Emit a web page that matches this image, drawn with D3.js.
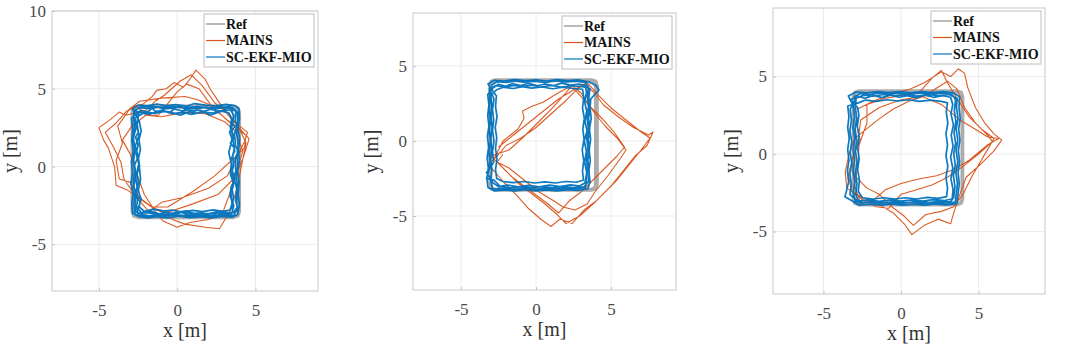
<!DOCTYPE html>
<html><head><meta charset="utf-8">
<script src="https://cdn.jsdelivr.net/npm/d3@7"></script>
<style>html,body{margin:0;padding:0;background:#fff;}svg{display:block;}</style>
</head><body>
<svg id="c" width="1080" height="359"></svg>
<script>
const seriesNames = ["Ref", "MAINS", "SC-EKF-MIO"];
const xTicks = [-5, 0, 5];
const yTicks1 = [-5, 0, 5, 10];
const yTicks2 = [-5, 0, 5];
const yTicks3 = [-5, 0, 5];
const xLim1 = [-8, 9],   yLim1 = [-8, 10];
const xLim2 = [-8.2, 9.33], yLim2 = [-9.93, 8.53];
const xLim3 = [-8.26, 9.29], yLim3 = [-9.03, 9.42];

// ---------- Panel 1 ----------
const ref1 = [[-2.5,3.9],[3.6,3.9],[3.9,3.8],[4.0,3.5],[4.0,-2.9],[3.9,-3.2],[3.6,-3.3],[-2.5,-3.3],[-2.8,-3.2],[-2.9,-2.9],[-2.9,3.5],[-2.8,3.8],[-2.5,3.9],
 [-2.5,3.8],[3.6,3.8],[3.85,3.7],[3.92,3.4],[3.92,-2.9],[3.85,-3.15],[3.6,-3.22],[-2.5,-3.22],[-2.75,-3.15],[-2.82,-2.9],[-2.82,3.5],[-2.75,3.72],[-2.5,3.8]];
const mains1 = [[-3.0,3.8],[-2.2,4.0],[-1.6,4.5],[-1.3,4.9],[-0.7,5.0],[-0.2,5.4],[0.4,5.1],[0.8,5.6],[1.2,6.2],[1.8,5.6],[2.1,5.0],[2.5,4.4],[3.1,3.5],[3.6,2.9],[4.3,2.1],[4.6,1.8],[4.2,0.5],[3.9,-0.2],[3.6,-0.8],[2.6,-1.8],[1.0,-2.4],[-0.5,-2.9],[-1.5,-2.7],[-2.2,-2.2],[-3.2,-1.5],[-3.9,-1.2],[-4.0,0.0],[-4.4,1.2],[-4.7,1.7],[-5.0,2.5],[-4.3,3.0],[-3.7,3.5],[-3.3,3.3],
 [-2.0,3.6],[-1.4,4.2],[-0.8,4.6],[0.2,5.5],[0.9,5.9],[1.6,5.2],[2.4,4.1],[3.2,3.4],[4.0,2.6],[4.5,2.2],[4.3,1.6],[4.0,1.0],[3.2,-0.6],[2.0,-1.4],[0.3,-2.0],[-1.0,-2.3],[-1.8,-2.9],[-2.6,-2.0],[-3.4,-0.8],[-3.6,0.3],[-4.1,1.3],[-4.6,2.2],[-3.9,2.8],[-3.3,3.5],
 [-2.4,4.2],[-1.0,4.4],[0.5,4.5],[1.3,4.3],[2.0,4.0],[3.2,3.0],[4.0,2.4],[4.4,1.5],[4.1,0.0],[3.8,-1.5],[3.4,-2.8],[3.0,-3.5],[2.7,-4.0],[1.8,-3.9],[0.5,-3.7],[-0.3,-3.4],[-0.8,-3.0],[-1.5,-2.7],[-2.4,-2.0],[-3.0,-1.0],[-3.7,-0.8],[-3.9,0.4],[-3.5,1.5],[-3.8,2.6],[-3.1,3.6],[-2.6,3.9],
 [-2.0,3.3],[-1.0,3.2],[0.5,3.5],[1.8,3.4],[3.0,2.9],[3.7,2.3],[4.2,1.0],[3.8,-0.3],[3.3,-1.9],[2.9,-3.0],[2.0,-3.4],[0.8,-3.6],[0.0,-3.9],[-0.9,-3.5],[-1.4,-2.9],[-2.1,-1.8],[-2.6,-0.4],[-3.0,0.8],[-3.5,1.7],[-2.9,2.6],[-2.0,3.3],
 [-1.2,3.3],[0.0,4.8],[0.6,5.3],[1.4,5.0],[2.2,3.9],[3.4,2.8],[4.4,2.0],[4.3,1.2],[3.7,0.6],[2.4,-0.6],[1.0,-1.6],[-0.6,-2.6],[-1.7,-2.6]];
const mio1 = [[-2.7,3.6],[-2.4,3.78],[-1.7,3.72],[-1.2,3.85],[-0.9,3.7],[-0.2,3.76],[0.2,3.9],[0.5,3.68],[1.3,3.74],[1.9,3.82],[2.2,3.66],[2.9,3.79],[3.4,3.72],[3.75,3.55],[3.72,3.0],[3.82,2.6],[3.66,2.1],[3.74,1.3],[3.9,1.0],[3.7,0.5],[3.75,-0.3],[3.62,-0.7],[3.8,-1.4],[3.73,-2.2],[3.85,-2.6],[3.6,-2.95],[3.2,-3.1],[2.6,-3.02],[2.1,-3.16],[1.4,-3.05],[0.7,-3.12],[0.3,-2.95],[-0.4,-3.1],[-1.1,-3.04],[-1.6,-3.2],[-2.2,-3.08],[-2.65,-2.9],[-2.7,-2.4],[-2.6,-1.9],[-2.78,-1.3],[-2.66,-0.6],[-2.72,0.1],[-2.55,0.5],[-2.7,1.2],[-2.82,1.8],[-2.62,2.5],[-2.7,3.1],
 [-2.4,3.3],[-2.0,3.5],[-1.4,3.42],[-0.8,3.55],[-0.3,3.4],[0.4,3.48],[0.9,3.35],[1.6,3.5],[2.3,3.44],[2.7,3.6],[3.3,3.45],[3.48,3.1],[3.4,2.5],[3.55,2.0],[3.42,1.4],[3.3,0.9],[3.46,0.2],[3.4,-0.5],[3.58,-1.0],[3.44,-1.7],[3.5,-2.4],[3.38,-2.8],[2.9,-2.88],[2.3,-2.78],[1.6,-2.9],[1.0,-2.82],[0.3,-2.92],[-0.3,-2.8],[-0.9,-2.86],[-1.5,-2.74],[-2.1,-2.88],[-2.42,-2.6],[-2.36,-2.0],[-2.48,-1.5],[-2.34,-0.8],[-2.4,-0.2],[-2.5,0.4],[-2.35,1.1],[-2.44,1.7],[-2.3,2.3],[-2.42,2.9],
 [-2.85,3.7],[-2.5,3.95],[-1.9,3.9],[-1.3,4.02],[-0.7,3.92],[-0.1,3.98],[0.6,3.88],[1.1,4.05],[1.8,3.95],[2.5,3.9],[3.1,4.0],[3.7,3.92],[3.95,3.7],[3.98,3.1],[3.88,2.4],[4.0,1.8],[3.92,1.1],[3.98,0.4],[3.86,-0.3],[3.96,-1.0],[3.9,-1.8],[3.98,-2.5],[3.86,-3.1],[3.5,-3.25],[2.8,-3.2],[2.2,-3.3],[1.5,-3.22],[0.8,-3.28],[0.1,-3.18],[-0.6,-3.3],[-1.3,-3.22],[-1.9,-3.3],[-2.5,-3.2],[-2.85,-3.0],[-2.9,-2.4],[-2.82,-1.7],[-2.95,-1.1],[-2.86,-0.4],[-2.92,0.3],[-2.8,1.0],[-2.9,1.7],[-2.84,2.4],[-2.92,3.1],
 [-2.55,3.45],[-2.3,3.62],[-1.9,3.5],[-1.6,3.75],[-1.4,3.55],[-0.9,3.62],[-0.5,3.45],[-0.2,3.7],[0.3,3.58],[0.8,3.66],[1.0,3.4],[1.2,3.64],[1.7,3.55],[2.2,3.7],[2.6,3.52],[3.0,3.62],[3.3,3.9],[3.5,3.6],[3.6,3.2],[3.45,2.8],[3.7,2.6],[3.5,2.3],[3.62,1.8],[3.4,1.5],[3.66,1.2],[3.55,0.7],[3.6,0.0],[3.48,-0.4],[3.65,-0.9],[3.52,-1.5],[3.6,-2.0],[3.5,-2.6],[3.56,-2.95],[3.1,-3.0],[2.6,-2.92],[2.0,-3.06],[1.5,-2.96],[0.9,-3.04],[0.4,-2.9],[-0.2,-3.02],[-0.8,-2.94],[-1.3,-3.08],[-1.9,-2.96],[-2.5,-3.0],[-2.6,-2.5],[-2.5,-2.1],[-2.62,-1.5],[-2.48,-1.0],[-2.58,-0.4],[-2.45,0.2],[-2.62,0.8],[-2.5,1.4],[-2.66,1.9],[-2.48,2.2],[-2.6,2.7],[-2.5,3.2],
 [-2.75,3.6],[-2.3,3.82],[-1.5,3.86],[-0.8,3.8],[-0.2,3.84],[0.5,3.78],[1.3,3.85],[2.0,3.76],[2.8,3.84],[3.5,3.8],[3.85,3.5],[3.88,2.8],[3.8,2.1],[3.9,1.4],[3.82,0.7],[3.86,0.0],[3.78,-0.7],[3.88,-1.4],[3.8,-2.2],[3.84,-2.8],[3.6,-3.15],[2.9,-3.12],[2.2,-3.2],[1.5,-3.14],[0.8,-3.18],[0.0,-3.1],[-0.7,-3.18],[-1.4,-3.12],[-2.1,-3.2],[-2.7,-3.05],[-2.76,-2.4],[-2.7,-1.7],[-2.8,-1.0],[-2.72,-0.3],[-2.78,0.4],[-2.7,1.1],[-2.8,1.8],[-2.72,2.5],[-2.78,3.2],[-2.75,3.6],
 [-2.45,3.5],[-1.8,3.35],[-1.1,3.6],[-0.4,3.5],[0.2,3.3],[0.9,3.58],[1.5,3.62],[2.1,3.3],[2.8,3.55],[3.4,3.65],[3.62,3.3],[3.55,2.7],[3.35,2.2],[3.58,1.6],[3.68,1.0],[3.42,0.4],[3.5,-0.2],[3.7,-0.8],[3.45,-1.3],[3.38,-1.9],[3.62,-2.5],[3.48,-3.05],[2.8,-2.85],[2.1,-3.0],[1.3,-3.1],[0.6,-2.85],[-0.1,-2.95],[-0.8,-3.15],[-1.6,-2.9],[-2.3,-2.95],[-2.5,-2.7],[-2.3,-2.1],[-2.55,-1.4],[-2.65,-0.7],[-2.4,0.0],[-2.5,0.7],[-2.68,1.3],[-2.45,2.0],[-2.55,2.7],[-2.45,3.5]];

// ---------- Panel 2 ----------
const ref2 = [[-2.7,4.1],[3.7,4.1],[4.0,4.0],[4.1,3.7],[4.1,-2.9],[4.0,-3.2],[3.7,-3.3],[-2.7,-3.3],[-3.0,-3.2],[-3.1,-2.9],[-3.1,3.7],[-3.0,4.0],[-2.7,4.1],
 [-2.7,4.0],[3.7,4.0],[3.9,3.9],[3.95,3.6],[3.95,-2.9],[3.9,-3.1],[3.7,-3.2],[-2.7,-3.2],[-2.95,-3.1],[-3.0,-2.9],[-3.0,3.7],[-2.95,3.9],[-2.7,4.0]];
const mains2 = [[-2.5,-0.4],[-1.5,0.4],[-0.5,1.2],[0.5,2.0],[1.5,2.8],[2.5,3.4],[3.2,3.8],[3.8,3.3],[4.5,2.4],[5.5,1.6],[6.5,0.9],[7.5,0.4],[7.8,0.6],[7.4,-0.3],[6.6,-1.0],[5.8,-2.0],[5.0,-3.0],[4.0,-4.0],[3.2,-4.6],[2.4,-5.5],[1.6,-5.2],[1.0,-5.7],[0.3,-5.2],[-0.5,-4.5],[-1.3,-3.6],[-2.1,-2.8],[-2.8,-2.0],[-3.2,-1.6],[-2.5,-0.9],
 [-2.0,-0.3],[-1.0,0.2],[0.0,0.9],[1.0,1.8],[2.0,2.7],[2.8,3.5],[3.4,3.9],[4.2,3.0],[5.0,2.2],[6.0,1.4],[7.0,0.6],[7.6,0.2],[7.0,-0.6],[6.2,-1.6],[5.4,-2.6],[4.6,-3.4],[3.8,-4.2],[2.9,-5.0],[2.0,-5.5],[1.4,-4.9],[0.6,-4.2],[-0.3,-3.5],[-1.2,-2.8],[-2.0,-2.0],[-2.8,-1.2],[-2.2,0.0],
 [-1.2,0.8],[-0.8,1.5],[-0.9,2.0],[-0.3,2.3],[0.5,2.6],[1.3,3.1],[2.2,3.6],[2.6,3.4],[3.5,2.4],[4.4,1.5],[5.2,0.6],[5.9,-0.4],[5.4,-1.0],[4.6,-1.8],[3.8,-2.6],[3.0,-3.4],[2.2,-4.0],[1.5,-4.8],[0.8,-4.2],[0.0,-3.6],[-0.8,-3.0],[-1.6,-2.4],[-2.4,-1.6],[-3.0,-1.0],[-1.8,-0.6],
 [-0.8,0.3],[0.2,1.3],[1.1,2.2],[1.9,3.1],[2.4,3.7],[3.0,3.2],[3.8,2.0],[4.6,1.0],[5.4,0.2],[6.0,-0.6],[5.6,-1.2],[4.8,-2.3],[4.0,-3.3],[3.4,-4.2],[2.6,-4.6],[1.8,-4.4],[1.2,-4.0],[0.2,-3.4],[-0.8,-2.6],[-1.8,-1.8],[-2.6,-1.4],[-2.2,-0.9]];
const mio2 = [[-3.0,3.7],[-2.6,3.95],[-2.0,3.9],[-1.4,4.0],[-0.8,3.92],[-0.1,3.98],[0.6,3.9],[1.3,4.02],[2.0,3.94],[2.7,3.98],[3.3,3.9],[3.5,3.6],[3.42,3.0],[3.5,2.3],[3.4,1.6],[3.48,0.9],[3.38,0.2],[3.46,-0.5],[3.36,-1.2],[3.44,-1.9],[3.36,-2.6],[3.3,-3.1],[2.7,-3.2],[2.0,-3.14],[1.3,-3.22],[0.6,-3.16],[-0.1,-3.24],[-0.8,-3.16],[-1.5,-3.24],[-2.2,-3.16],[-2.9,-3.2],[-3.02,-2.6],[-2.94,-1.9],[-3.04,-1.2],[-2.96,-0.5],[-3.02,0.2],[-2.92,0.9],[-3.0,1.6],[-2.94,2.3],[-3.02,3.0],
 [-2.65,3.4],[-2.2,3.58],[-1.5,3.5],[-0.9,3.62],[-0.3,3.52],[0.4,3.6],[1.1,3.48],[1.8,3.58],[2.5,3.5],[3.1,3.45],[3.18,2.9],[3.1,2.2],[3.22,1.5],[3.12,0.8],[3.2,0.1],[3.08,-0.6],[3.18,-1.3],[3.1,-2.0],[3.16,-2.6],[2.7,-2.75],[2.0,-2.7],[1.3,-2.8],[0.6,-2.72],[-0.1,-2.8],[-0.8,-2.7],[-1.5,-2.78],[-2.2,-2.7],[-2.62,-2.5],[-2.7,-1.9],[-2.6,-1.2],[-2.7,-0.5],[-2.62,0.2],[-2.72,0.9],[-2.6,1.6],[-2.7,2.3],[-2.64,3.0],
 [-3.2,3.8],[-2.8,4.05],[-2.1,4.0],[-1.4,4.1],[-0.7,4.02],[0.0,4.08],[0.7,4.0],[1.4,4.1],[2.1,4.02],[2.8,4.08],[3.5,3.95],[4.0,3.7],[4.2,3.4],[3.9,3.1],[3.65,2.8],[3.6,2.2],[3.68,1.5],[3.56,0.8],[3.64,0.1],[3.54,-0.6],[3.62,-1.3],[3.52,-2.0],[3.6,-2.7],[3.45,-3.2],[2.8,-3.3],[2.1,-3.24],[1.4,-3.32],[0.7,-3.26],[0.0,-3.32],[-0.7,-3.24],[-1.4,-3.32],[-2.1,-3.26],[-2.8,-3.32],[-3.2,-3.1],[-3.28,-2.5],[-3.18,-1.8],[-3.26,-1.1],[-3.16,-0.4],[-3.24,0.3],[-3.14,1.0],[-3.22,1.7],[-3.14,2.4],[-3.22,3.1],
 [-2.85,3.55],[-2.5,3.78],[-2.0,3.65],[-1.6,3.82],[-1.0,3.7],[-0.5,3.85],[0.1,3.68],[0.6,3.8],[1.2,3.7],[1.7,3.86],[2.3,3.72],[2.9,3.8],[3.3,3.7],[3.36,3.2],[3.24,2.6],[3.38,2.0],[3.26,1.3],[3.4,0.7],[3.22,0.0],[3.36,-0.7],[3.24,-1.4],[3.38,-2.1],[3.26,-2.8],[2.9,-3.0],[2.3,-2.92],[1.6,-3.04],[0.9,-2.94],[0.2,-3.06],[-0.5,-2.96],[-1.2,-3.06],[-1.9,-2.94],[-2.5,-3.04],[-2.85,-2.8],[-3.3,-2.1],[-3.05,-1.8],[-2.82,-1.4],[-2.9,-0.7],[-2.8,0.0],[-2.9,0.7],[-2.82,1.4],[-2.9,2.1],[-2.8,2.8],
 [-3.1,3.5],[-2.7,3.68],[-2.1,3.6],[-1.5,3.7],[-0.9,3.62],[-0.3,3.72],[0.3,3.6],[1.0,3.7],[1.7,3.6],[2.4,3.68],[3.1,3.62],[3.6,3.5],[3.52,2.9],[3.6,2.2],[3.5,1.5],[3.58,0.8],[3.48,0.1],[3.56,-0.6],[3.46,-1.3],[3.54,-2.0],[3.5,-2.7],[3.2,-3.05],[2.5,-3.1],[1.8,-3.04],[1.1,-3.12],[0.4,-3.04],[-0.3,-3.12],[-1.0,-3.04],[-1.7,-3.12],[-2.4,-3.02],[-2.8,-2.6],[-3.3,-2.5],[-3.15,-2.0],[-3.06,-1.4],[-3.14,-0.7],[-3.04,0.0],[-3.12,0.7],[-3.04,1.4],[-3.12,2.1],[-3.06,2.8],[-3.1,3.5]];

// ---------- Panel 3 ----------
const ref3 = [[-2.7,4.1],[3.6,4.1],[3.9,4.0],[4.0,3.7],[4.0,-2.9],[3.9,-3.2],[3.6,-3.3],[-2.7,-3.3],[-3.0,-3.2],[-3.1,-2.9],[-3.1,3.7],[-3.0,4.0],[-2.7,4.1],
 [-2.7,4.0],[3.6,4.0],[3.85,3.9],[3.92,3.6],[3.92,-2.9],[3.85,-3.1],[3.6,-3.22],[-2.7,-3.22],[-2.95,-3.1],[-3.02,-2.9],[-3.02,3.7],[-2.95,3.92],[-2.7,4.0]];
const mains3 = [[-2.8,2.9],[-1.8,3.4],[-0.5,3.9],[0.6,4.2],[1.5,4.6],[2.6,5.3],[3.2,5.0],[3.7,5.5],[4.1,5.2],[4.3,4.3],[4.8,3.0],[5.4,2.0],[6.0,1.3],[6.5,0.9],[6.0,0.2],[5.2,-0.6],[4.2,-1.5],[3.8,-2.6],[3.4,-3.8],[3.2,-4.5],[2.4,-4.2],[1.5,-4.6],[0.7,-5.2],[0.2,-4.5],[-0.5,-3.8],[-1.5,-3.2],[-2.5,-2.8],[-3.5,-2.2],[-3.6,-1.2],[-3.4,-0.2],[-3.0,1.0],[-2.5,1.4],
 [-1.5,2.2],[-0.5,2.9],[0.5,3.4],[1.4,3.7],[2.2,4.2],[3.0,4.7],[3.6,4.2],[4.1,3.0],[4.8,2.0],[5.6,1.2],[5.9,0.8],[5.0,0.0],[4.0,-0.8],[3.0,-1.5],[2.0,-2.0],[1.0,-2.3],[0.0,-2.6],[-0.8,-3.5],[-1.6,-3.4],[-2.4,-3.0],[-3.2,-2.4],[-3.4,-1.3],[-3.1,-0.3],[-2.8,0.6],[-2.6,2.2],
 [-1.4,3.0],[0.0,3.5],[1.4,3.7],[2.6,3.2],[3.8,2.2],[4.8,1.6],[5.6,1.1],[6.3,1.0],[5.6,0.6],[4.4,-0.4],[3.4,-1.0],[2.3,-1.4],[1.2,-1.6],[0.0,-1.9],[-1.0,-2.3],[-1.8,-3.0],[-2.6,-3.2],[-3.0,-2.0],[-2.8,-0.8],[-2.7,0.6],[-2.2,2.0],[-2.2,3.2],
 [-1.0,3.6],[0.2,3.8],[1.2,4.0],[2.0,4.9],[2.6,5.4],[3.0,4.6],[3.6,3.6],[4.4,2.4],[5.2,1.6],[6.0,1.0],[5.3,-0.2],[4.6,-1.4],[4.0,-2.6],[3.4,-3.4],[2.6,-3.7],[1.6,-3.9],[0.8,-4.6],[0.2,-4.0],[-0.6,-3.4],[-1.4,-2.6],[-2.2,-2.2],[-3.0,-1.4],[-3.2,-0.4],[-2.6,1.0]];
const mio3 = [[-3.05,3.7],[-2.6,3.9],[-2.0,3.84],[-1.4,3.94],[-0.8,3.86],[-0.1,3.92],[0.6,3.84],[1.3,3.94],[2.0,3.86],[2.7,3.92],[3.3,3.84],[3.52,3.5],[3.44,2.8],[3.54,2.1],[3.42,1.4],[3.52,0.7],[3.4,0.0],[3.5,-0.7],[3.38,-1.4],[3.48,-2.1],[3.4,-2.8],[3.2,-3.08],[2.5,-3.04],[1.8,-3.14],[1.1,-3.06],[0.4,-3.14],[-0.3,-3.06],[-1.0,-3.14],[-1.7,-3.06],[-2.4,-3.14],[-2.95,-3.05],[-3.08,-2.5],[-2.98,-1.8],[-3.1,-1.1],[-3.0,-0.4],[-3.08,0.3],[-2.98,1.0],[-3.1,1.7],[-3.0,2.4],[-3.08,3.1],
 [-3.4,3.75],[-2.9,4.0],[-2.2,3.94],[-1.5,4.02],[-0.8,3.96],[-0.1,4.02],[0.6,3.94],[1.3,4.02],[2.0,3.96],[2.7,4.02],[3.4,3.94],[3.78,3.7],[3.74,3.0],[3.82,2.3],[3.72,1.6],[3.8,0.9],[3.7,0.2],[3.78,-0.5],[3.68,-1.2],[3.76,-1.9],[3.68,-2.6],[3.6,-3.2],[2.9,-3.28],[2.2,-3.22],[1.5,-3.3],[0.8,-3.24],[0.1,-3.3],[-0.6,-3.22],[-1.3,-3.3],[-2.0,-3.24],[-2.7,-3.3],[-3.2,-3.0],[-3.62,-2.75],[-3.5,-2.3],[-3.38,-1.8],[-3.46,-1.1],[-3.36,-0.4],[-3.44,0.3],[-3.34,1.0],[-3.44,1.7],[-3.36,2.4],[-3.44,3.1],
 [-2.75,3.3],[-2.3,3.48],[-1.6,3.4],[-0.9,3.5],[-0.2,3.42],[0.5,3.5],[1.2,3.4],[1.9,3.48],[2.6,3.4],[3.0,3.3],[2.92,2.7],[3.02,2.0],[2.9,1.3],[3.0,0.6],[2.9,-0.1],[3.02,-0.8],[2.9,-1.5],[3.0,-2.2],[2.94,-2.75],[2.4,-2.86],[1.7,-2.8],[1.0,-2.9],[0.3,-2.82],[-0.4,-2.9],[-1.1,-2.82],[-1.8,-2.9],[-2.5,-2.82],[-2.76,-2.4],[-2.68,-1.7],[-2.8,-1.0],[-2.7,-0.3],[-2.8,0.4],[-2.7,1.1],[-2.82,1.8],[-2.72,2.5],[-2.8,3.0],
 [-3.25,3.5],[-2.8,3.72],[-2.3,3.6],[-1.8,3.78],[-1.2,3.64],[-0.7,3.8],[-0.1,3.66],[0.4,3.76],[1.0,3.62],[1.5,3.8],[2.1,3.66],[2.7,3.76],[3.2,3.66],[3.34,3.2],[3.22,2.6],[3.38,1.9],[3.24,1.2],[3.36,0.5],[3.2,-0.2],[3.34,-0.9],[3.22,-1.6],[3.36,-2.3],[3.3,-2.9],[2.8,-3.0],[2.1,-2.94],[1.4,-3.04],[0.7,-2.96],[0.0,-3.04],[-0.7,-2.96],[-1.4,-3.06],[-2.1,-2.96],[-2.8,-3.04],[-3.3,-2.6],[-3.2,-2.0],[-3.3,-1.3],[-3.18,-0.6],[-3.28,0.1],[-3.18,0.8],[-3.3,1.5],[-3.2,2.2],[-3.28,2.9],
 [-2.9,3.6],[-2.4,3.8],[-1.8,3.74],[-1.1,3.84],[-0.4,3.76],[0.3,3.84],[1.0,3.74],[1.7,3.84],[2.4,3.76],[3.1,3.84],[3.62,3.6],[3.58,3.0],[3.68,2.3],[3.56,1.6],[3.66,0.9],[3.56,0.2],[3.66,-0.5],[3.54,-1.2],[3.64,-1.9],[3.56,-2.6],[3.5,-3.1],[2.8,-3.16],[2.1,-3.1],[1.4,-3.18],[0.7,-3.1],[0.0,-3.18],[-0.7,-3.1],[-1.4,-3.18],[-2.1,-3.1],[-2.7,-3.16],[-2.92,-2.6],[-2.84,-1.9],[-2.94,-1.2],[-2.84,-0.5],[-2.94,0.2],[-2.86,0.9],[-2.96,1.6],[-2.86,2.3],[-2.94,3.0],[-2.9,3.6]];

// ---------- Drawing ----------
const colors = {"Ref": "#a3a3a3", "MAINS": "#D95319", "SC-EKF-MIO": "#0072BD"};
const widths = {"Ref": 2.6, "MAINS": 1.1, "SC-EKF-MIO": 1.7};
const panels = [
  {box:[52, 11, 318, 291], xLim:xLim1, yLim:yLim1, yTicks:yTicks1, data:[ref1, mains1, mio1]},
  {box:[413, 13, 676, 290], xLim:xLim2, yLim:yLim2, yTicks:yTicks2, data:[ref2, mains2, mio2]},
  {box:[773, 8, 1045, 294], xLim:xLim3, yLim:yLim3, yTicks:yTicks3, data:[ref3, mains3, mio3]}
];
const svg = d3.select("#c");
const serif = "'Liberation Serif', 'Times New Roman', 'DejaVu Serif', serif";
const fmt = d => String(d);
panels.forEach((p, i) => {
  const [l, t, r, b] = p.box;
  const x = d3.scaleLinear().domain(p.xLim).range([l, r]);
  const y = d3.scaleLinear().domain(p.yLim).range([b, t]);
  const g = svg.append("g");
  g.selectAll(".gx").data(xTicks).enter().append("line")
    .attr("x1", d => x(d)).attr("x2", d => x(d)).attr("y1", t).attr("y2", b)
    .attr("stroke", "#ececec").attr("stroke-width", 1);
  g.selectAll(".gy").data(p.yTicks).enter().append("line")
    .attr("y1", d => y(d)).attr("y2", d => y(d)).attr("x1", l).attr("x2", r)
    .attr("stroke", "#ececec").attr("stroke-width", 1);
  const ax = g.append("g").attr("transform", `translate(0,${b})`)
    .call(d3.axisBottom(x).tickValues(xTicks).tickSize(-3).tickPadding(9).tickFormat(fmt));
  const ay = g.append("g").attr("transform", `translate(${l},0)`)
    .call(d3.axisLeft(y).tickValues(p.yTicks).tickSize(-3).tickPadding(6).tickFormat(fmt));
  [ax, ay].forEach(a => {
    a.attr("font-family", null).attr("font-size", null);
    a.select(".domain").remove();
    a.selectAll("line").attr("stroke", "#c4c4c4");
    a.selectAll("text").style("font-family", serif).style("font-size", "17px").attr("fill", "#4a4a4a");
  });
  ax.selectAll("text").attr("dy", "0.95em");
  g.append("rect").attr("x", l).attr("y", t).attr("width", r - l).attr("height", b - t)
    .attr("fill", "none").attr("stroke", "#c8c8c8").attr("stroke-width", 1);
  const clipId = "clip" + i;
  svg.append("clipPath").attr("id", clipId).append("rect")
    .attr("x", l).attr("y", t).attr("width", r - l).attr("height", b - t);
  const line = d3.line().x(d => x(d[0])).y(d => y(d[1])).curve(d3.curveLinear);
  const dg = g.append("g").attr("clip-path", `url(#${clipId})`);
  seriesNames.forEach((s, k) => {
    dg.append("path").attr("d", line(p.data[k])).attr("fill", "none")
      .attr("stroke", colors[s]).attr("stroke-width", widths[s])
      .attr("stroke-linejoin", "round").attr("stroke-opacity", s === "Ref" ? 0.9 : 0.95);
  });
  g.append("text").attr("x", (l + r) / 2).attr("y", b + 46).attr("text-anchor", "middle")
    .style("font-family", serif).style("font-size", "20px").attr("fill", "#333").text("x [m]");
  g.append("text").attr("transform", `translate(${l - 35},${(t + b) / 2}) rotate(-90)`)
    .attr("text-anchor", "middle").style("font-family", serif).style("font-size", "20px").attr("fill", "#333").text("y [m]");
  const lw = 110, lh = 53;
  const lx = r - 4 - lw, ly = t + 3;
  const lg = g.append("g");
  lg.append("rect").attr("x", lx).attr("y", ly).attr("width", lw).attr("height", lh)
    .attr("fill", "#fff").attr("stroke", "#bdbdbd").attr("stroke-width", 1);
  seriesNames.forEach((s, k) => {
    const yy = ly + 10 + k * 16.5;
    lg.append("line").attr("x1", lx + 2).attr("x2", lx + 21).attr("y1", yy).attr("y2", yy)
      .attr("stroke", colors[s]).attr("stroke-width", s === "Ref" ? 1.5 : 1.2);
    lg.append("text").attr("x", lx + 22).attr("y", yy).attr("dy", "0.35em")
      .style("font-family", serif).style("font-weight", "bold").style("font-size", "14px")
      .attr("fill", "#111").text(s);
  });
});
</script>
</body></html>
